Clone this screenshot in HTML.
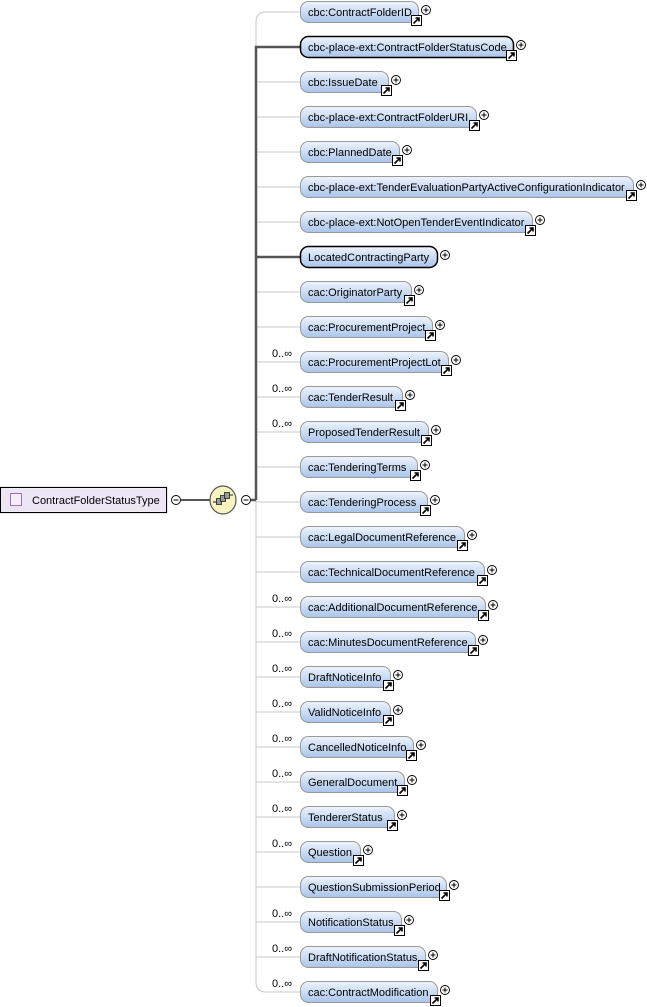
<!DOCTYPE html>
<html><head><meta charset="utf-8"><style>
html,body{margin:0;padding:0;background:#fff;width:647px;height:1007px;overflow:hidden}
text{font-family:"Liberation Sans",Tahoma,sans-serif;font-size:11px;fill:#000}
</style></head><body>
<svg width="647" height="1007" xmlns="http://www.w3.org/2000/svg">
<defs>
<linearGradient id="g" x1="0" y1="0" x2="0" y2="1"><stop offset="0" stop-color="#eef4fc"/><stop offset="1" stop-color="#a9c4ea"/></linearGradient>
<g id="arr"><rect x="0.5" y="0.5" width="10" height="10" fill="#fff" stroke="#000"/><path d="M2.5 8.5 L8 3 M4.5 3 H8 V6.5" stroke="#000" stroke-width="1.6" fill="none"/></g>
<g id="plus"><circle cx="0" cy="0" r="4.5" fill="#fff" stroke="#000" stroke-width="0.9"/><path d="M-2.5 0 H2.5 M0 -2.5 V2.5" stroke="#000"/></g>
</defs>
<!-- thin spine -->
<path d="M300 12 H266 Q256 12 256 22 V982 Q256 992 266 992 H300" fill="none" stroke="#c8c8c8"/>
<g stroke="#c8c8c8">
<line x1="256" y1="82" x2="300" y2="82"/><line x1="256" y1="117" x2="300" y2="117"/><line x1="256" y1="152" x2="300" y2="152"/><line x1="256" y1="187" x2="300" y2="187"/><line x1="256" y1="222" x2="300" y2="222"/><line x1="256" y1="292" x2="300" y2="292"/><line x1="256" y1="327" x2="300" y2="327"/><line x1="256" y1="362" x2="300" y2="362"/><line x1="256" y1="397" x2="300" y2="397"/><line x1="256" y1="432" x2="300" y2="432"/><line x1="256" y1="467" x2="300" y2="467"/><line x1="256" y1="502" x2="300" y2="502"/><line x1="256" y1="537" x2="300" y2="537"/><line x1="256" y1="572" x2="300" y2="572"/><line x1="256" y1="607" x2="300" y2="607"/><line x1="256" y1="642" x2="300" y2="642"/><line x1="256" y1="677" x2="300" y2="677"/><line x1="256" y1="712" x2="300" y2="712"/><line x1="256" y1="747" x2="300" y2="747"/><line x1="256" y1="782" x2="300" y2="782"/><line x1="256" y1="817" x2="300" y2="817"/><line x1="256" y1="852" x2="300" y2="852"/><line x1="256" y1="887" x2="300" y2="887"/><line x1="256" y1="922" x2="300" y2="922"/><line x1="256" y1="957" x2="300" y2="957"/>
</g>
<path d="M300 47 H256 V500 M256 257 H300" fill="none" stroke="#555" stroke-width="2.5"/>
<line x1="251" y1="500" x2="256" y2="500" stroke="#555" stroke-width="2.5"/>
<!-- left type -->
<rect x="0.5" y="487.5" width="166" height="25" fill="#ece6f4" stroke="#000" stroke-width="1.2"/>
<rect x="1.5" y="488.5" width="164" height="23" fill="none" stroke="#fff" stroke-opacity="0.6"/>
<rect x="10.5" y="493.5" width="11" height="12" fill="#f4eef8" stroke="#a070c0"/>
<text x="32" y="504">ContractFolderStatusType</text>
<circle cx="176" cy="500" r="4.5" fill="#fff" stroke="#000" stroke-width="0.9"/><line x1="173.5" y1="500" x2="178.5" y2="500" stroke="#000"/>
<line x1="181" y1="500" x2="210" y2="500" stroke="#555" stroke-width="2"/>
<ellipse cx="223" cy="500" rx="13" ry="14" fill="#f8f4c0" stroke="#555" stroke-width="1.2"/>
<g fill="#999" stroke="#222" stroke-width="0.8"><rect x="216.5" y="498.5" width="5" height="6"/><rect x="220.5" y="495.5" width="5" height="6"/><rect x="224.5" y="492.5" width="5" height="6"/></g>
<path d="M213 502 H217 M229 495 H233" stroke="#222"/>
<circle cx="246" cy="500" r="4.5" fill="#fff" stroke="#000" stroke-width="0.9"/><line x1="243.5" y1="500" x2="248.5" y2="500" stroke="#000"/>
<!-- multiplicity -->
<g font-size="10">
<text x="272" y="357">0..∞</text><text x="272" y="392">0..∞</text><text x="272" y="427">0..∞</text><text x="272" y="602">0..∞</text><text x="272" y="637">0..∞</text><text x="272" y="672">0..∞</text><text x="272" y="707">0..∞</text><text x="272" y="742">0..∞</text><text x="272" y="777">0..∞</text><text x="272" y="812">0..∞</text><text x="272" y="847">0..∞</text><text x="272" y="917">0..∞</text><text x="272" y="952">0..∞</text><text x="272" y="987">0..∞</text>
</g>
<!-- rows -->
<g stroke="#999" fill="url(#g)">
<rect x="300.5" y="1.5" width="118" height="21" rx="8"/>
<rect x="300.5" y="36.5" width="213" height="21" rx="8" stroke="#000" stroke-width="1.5"/>
<rect x="300.5" y="71.5" width="88" height="21" rx="8"/>
<rect x="300.5" y="106.5" width="176" height="21" rx="8"/>
<rect x="300.5" y="141.5" width="99" height="21" rx="8"/>
<rect x="300.5" y="176.5" width="333" height="21" rx="8"/>
<rect x="300.5" y="211.5" width="232" height="21" rx="8"/>
<rect x="300.5" y="246.5" width="137" height="21" rx="8" stroke="#000" stroke-width="1.5"/>
<rect x="300.5" y="281.5" width="111" height="21" rx="8"/>
<rect x="300.5" y="316.5" width="132" height="21" rx="8"/>
<rect x="300.5" y="351.5" width="148" height="21" rx="8"/>
<rect x="300.5" y="386.5" width="102" height="21" rx="8"/>
<rect x="300.5" y="421.5" width="128" height="21" rx="8"/>
<rect x="300.5" y="456.5" width="117" height="21" rx="8"/>
<rect x="300.5" y="491.5" width="127" height="21" rx="8"/>
<rect x="300.5" y="526.5" width="164" height="21" rx="8"/>
<rect x="300.5" y="561.5" width="184" height="21" rx="8"/>
<rect x="300.5" y="596.5" width="185" height="21" rx="8"/>
<rect x="300.5" y="631.5" width="175" height="21" rx="8"/>
<rect x="300.5" y="666.5" width="90" height="21" rx="8"/>
<rect x="300.5" y="701.5" width="90" height="21" rx="8"/>
<rect x="300.5" y="736.5" width="113" height="21" rx="8"/>
<rect x="300.5" y="771.5" width="104" height="21" rx="8"/>
<rect x="300.5" y="806.5" width="94" height="21" rx="8"/>
<rect x="300.5" y="841.5" width="60" height="21" rx="8"/>
<rect x="300.5" y="876.5" width="146" height="21" rx="8"/>
<rect x="300.5" y="911.5" width="101" height="21" rx="8"/>
<rect x="300.5" y="946.5" width="125" height="21" rx="8"/>
<rect x="300.5" y="981.5" width="137" height="21" rx="8"/>
</g>
<g>
<text x="308" y="16">cbc:ContractFolderID</text>
<text x="308" y="51">cbc-place-ext:ContractFolderStatusCode</text>
<text x="308" y="86">cbc:IssueDate</text>
<text x="308" y="121">cbc-place-ext:ContractFolderURI</text>
<text x="308" y="156">cbc:PlannedDate</text>
<text x="308" y="191">cbc-place-ext:TenderEvaluationPartyActiveConfigurationIndicator</text>
<text x="308" y="226">cbc-place-ext:NotOpenTenderEventIndicator</text>
<text x="308" y="261">LocatedContractingParty</text>
<text x="308" y="296">cac:OriginatorParty</text>
<text x="308" y="331">cac:ProcurementProject</text>
<text x="308" y="366">cac:ProcurementProjectLot</text>
<text x="308" y="401">cac:TenderResult</text>
<text x="308" y="436">ProposedTenderResult</text>
<text x="308" y="471">cac:TenderingTerms</text>
<text x="308" y="506">cac:TenderingProcess</text>
<text x="308" y="541">cac:LegalDocumentReference</text>
<text x="308" y="576">cac:TechnicalDocumentReference</text>
<text x="308" y="611">cac:AdditionalDocumentReference</text>
<text x="308" y="646">cac:MinutesDocumentReference</text>
<text x="308" y="681">DraftNoticeInfo</text>
<text x="308" y="716">ValidNoticeInfo</text>
<text x="308" y="751">CancelledNoticeInfo</text>
<text x="308" y="786">GeneralDocument</text>
<text x="308" y="821">TendererStatus</text>
<text x="308" y="856">Question</text>
<text x="308" y="891">QuestionSubmissionPeriod</text>
<text x="308" y="926">NotificationStatus</text>
<text x="308" y="961">DraftNotificationStatus</text>
<text x="308" y="996">cac:ContractModification</text>
</g>
<!-- arrows -->
<use href="#arr" x="411" y="15"/><use href="#arr" x="506" y="50"/><use href="#arr" x="381" y="85"/><use href="#arr" x="469" y="120"/><use href="#arr" x="392" y="155"/><use href="#arr" x="626" y="190"/><use href="#arr" x="525" y="225"/>
<use href="#arr" x="404" y="295"/><use href="#arr" x="425" y="330"/><use href="#arr" x="441" y="365"/><use href="#arr" x="395" y="400"/><use href="#arr" x="421" y="435"/><use href="#arr" x="410" y="470"/><use href="#arr" x="420" y="505"/><use href="#arr" x="457" y="540"/><use href="#arr" x="477" y="575"/><use href="#arr" x="478" y="610"/><use href="#arr" x="468" y="645"/><use href="#arr" x="383" y="680"/><use href="#arr" x="383" y="715"/><use href="#arr" x="406" y="750"/><use href="#arr" x="397" y="785"/><use href="#arr" x="387" y="820"/><use href="#arr" x="353" y="855"/><use href="#arr" x="439" y="890"/><use href="#arr" x="394" y="925"/><use href="#arr" x="418" y="960"/><use href="#arr" x="430" y="995"/>
<!-- plus -->
<use href="#plus" x="426" y="10"/><use href="#plus" x="521" y="45"/><use href="#plus" x="396" y="80"/><use href="#plus" x="484" y="115"/><use href="#plus" x="407" y="150"/><use href="#plus" x="641" y="185"/><use href="#plus" x="540" y="220"/><use href="#plus" x="445" y="255"/><use href="#plus" x="419" y="290"/><use href="#plus" x="440" y="325"/><use href="#plus" x="456" y="360"/><use href="#plus" x="410" y="395"/><use href="#plus" x="436" y="430"/><use href="#plus" x="425" y="465"/><use href="#plus" x="435" y="500"/><use href="#plus" x="472" y="535"/><use href="#plus" x="492" y="570"/><use href="#plus" x="493" y="605"/><use href="#plus" x="483" y="640"/><use href="#plus" x="398" y="675"/><use href="#plus" x="398" y="710"/><use href="#plus" x="421" y="745"/><use href="#plus" x="412" y="780"/><use href="#plus" x="402" y="815"/><use href="#plus" x="368" y="850"/><use href="#plus" x="454" y="885"/><use href="#plus" x="409" y="920"/><use href="#plus" x="433" y="955"/><use href="#plus" x="445" y="990"/>
</svg>
</body></html>
